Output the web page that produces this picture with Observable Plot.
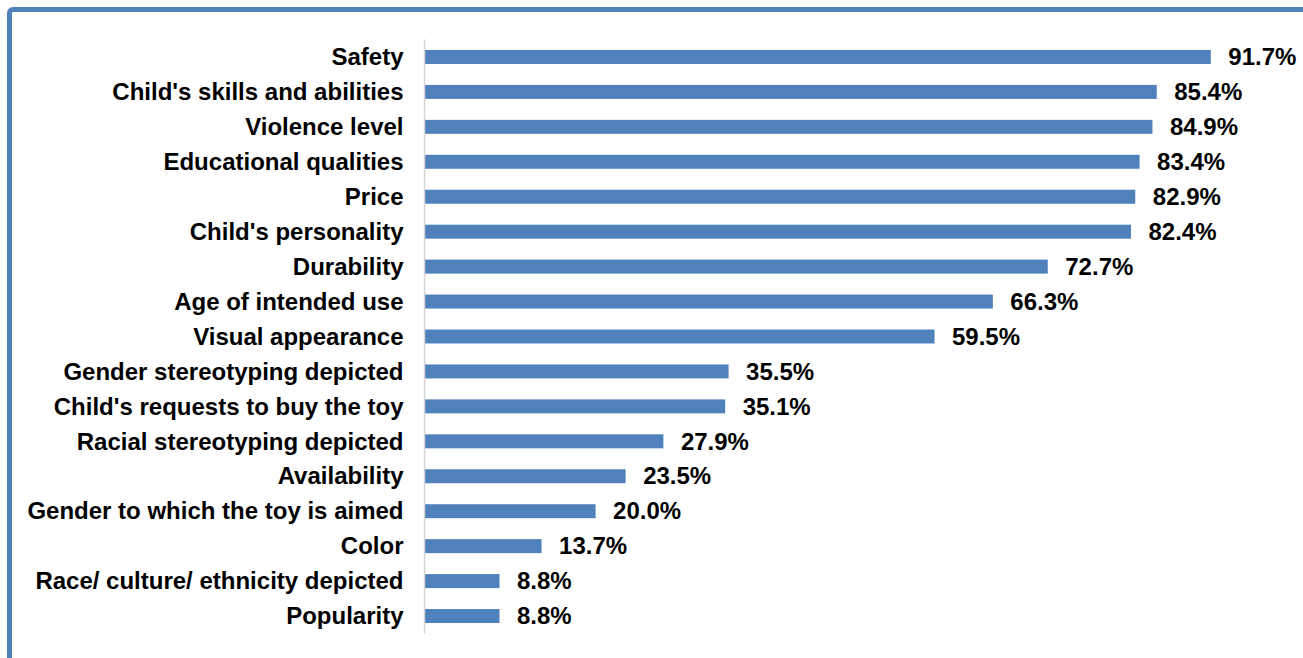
<!DOCTYPE html>
<html><head><meta charset="utf-8">
<script src="https://cdn.jsdelivr.net/npm/d3@7"></script>
<script src="https://cdn.jsdelivr.net/npm/@observablehq/plot@0.6"></script>
<style>
html,body{margin:0;padding:0;background:#fff;overflow:hidden;}
#wrap{position:relative;width:1303px;height:658px;}
#frame{position:absolute;left:7px;top:7px;width:1320px;height:680px;border:5px solid #4f81bd;border-radius:6px;box-sizing:border-box;}
#chart{position:absolute;left:0;top:0;}
</style></head>
<body><div id="wrap"><div id="frame"></div><div id="chart"></div></div>
<script>
const categories = ["Safety","Child's skills and abilities","Violence level","Educational qualities","Price","Child's personality","Durability","Age of intended use","Visual appearance","Gender stereotyping depicted","Child's requests to buy the toy","Racial stereotyping depicted","Availability","Gender to which the toy is aimed","Color","Race/ culture/ ethnicity depicted","Popularity"];
const values = [91.7,85.4,84.9,83.4,82.9,82.4,72.7,66.3,59.5,35.5,35.1,27.9,23.5,20.0,13.7,8.8,8.8];
const data = categories.map((c,i)=>({cat:c, v:values[i]}));
const font = "'Liberation Sans', Arial, sans-serif";
const chart = Plot.plot({
  width:1303, height:658,
  marginLeft:424, marginRight:21, marginTop:39.5, marginBottom:24.5,
  style:{fontFamily:font, background:"transparent"},
  x:{domain:[0,100], axis:null},
  y:{domain:categories, paddingInner:0.6, paddingOuter:0.3, round:false, label:null},
  marks:[
    Plot.barX(data,{x:"v", y:"cat", fill:"#4f81bd"}),
    Plot.ruleX([0],{stroke:"#d4d4d4", strokeWidth:1.5}),
    Plot.axisY({tickSize:0, tickPadding:21, fontSize:24, fontWeight:"bold", fill:"#000", label:null}),
    Plot.text(data,{x:"v", y:"cat", text:d=>d.v.toFixed(1)+"%", dx:17, textAnchor:"start", fontSize:24, fontWeight:"bold", fill:"#000"})
  ]
});
document.getElementById("chart").appendChild(chart);
</script></body></html>
